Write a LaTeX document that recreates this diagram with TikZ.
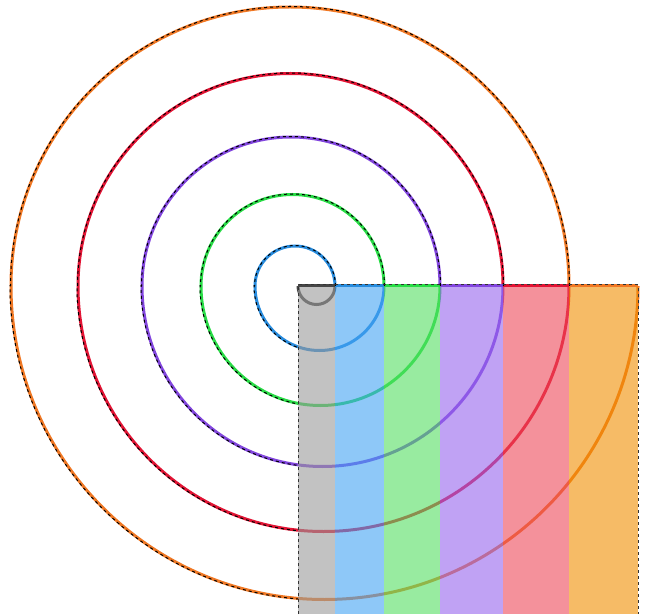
\documentclass[tikz,border=0pt]{standalone}
\usepackage{xcolor}
\usepackage{tikz}
\definecolor{gris}{RGB}{70,70,70}
\definecolor{azul}{RGB}{40,140,222}
\definecolor{verde}{RGB}{40,220,70}
\definecolor{morado}{RGB}{130,70,222}
\definecolor{rojo}{RGB}{226,20,52}
\definecolor{naranja}{RGB}{240,120,36}
\definecolor{fgris}{RGB}{153,153,153}
\definecolor{fazul}{RGB}{67,163,243}
\definecolor{fverde}{RGB}{83,222,97}
\definecolor{fmorado}{RGB}{150,100,237}
\definecolor{frojo}{RGB}{237,72,88}
\definecolor{fnaranja}{RGB}{240,142,0}

\begin{document}
\begin{tikzpicture}[x=1pt,y=1pt,
  vuelta/.style={line width=3pt},
  columna/.style={fill opacity=0.6},
  hormigas/.style={black,line width=1pt,dash pattern=on 3pt off 3pt}]
\useasboundingbox (0,0) rectangle (648,614);
% espiral: media vuelta arriba, media vuelta abajo
\draw[vuelta,gris] (298,328) arc[start angle=180,end angle=360,radius=18.5];
\foreach \x/\r/\R/\col in {335/40/64.5/azul,384/91.5/119.5/verde,440/149/180.5/morado,503/212.5/245.5/rojo,569/279/313.5/naranja}
  \draw[vuelta,\col] (\x,328) arc[start angle=0,end angle=180,radius=\r]
    arc[start angle=180,end angle=360,radius=\R];
% columnas
\fill[columna,fgris] (298,0) rectangle (335,328);
\fill[columna,fazul] (335,0) rectangle (384,328);
\fill[columna,fverde] (384,0) rectangle (440,328);
\fill[columna,fmorado] (440,0) rectangle (503,328);
\fill[columna,frojo] (503,0) rectangle (569,328);
\fill[columna,fnaranja] (569,0) rectangle (638,328);
\draw[vuelta,gris] (298,328) -- (335,328);
\draw[vuelta,azul] (335,328) -- (384,328);
\draw[vuelta,verde] (384,328) -- (440,328);
\draw[vuelta,morado] (440,328) -- (503,328);
\draw[vuelta,rojo] (503,328) -- (569,328);
\draw[vuelta,naranja] (569,328) -- (638,328);
% contorno punteado fuera de las columnas
\begin{scope}
\clip (0,0) -- (298,0) -- (298,328) -- (638,328) -- (638,0) -- (648,0) -- (648,614) -- (0,614) -- cycle;
\foreach \x/\r/\R in {335/40/64.5,384/91.5/119.5,440/149/180.5,503/212.5/245.5,569/279/313.5}
  \draw[hormigas] (\x+0.5,328) arc[start angle=0,end angle=180,radius=\r+0.5]
    -- ++(-0.5,0) arc[start angle=180,end angle=360,radius=\R+0.5];
\end{scope}
\draw[hormigas,black!80] (298,0) -- (298,329) -- (638,329) -- (638,0);
\end{tikzpicture}
\end{document}
